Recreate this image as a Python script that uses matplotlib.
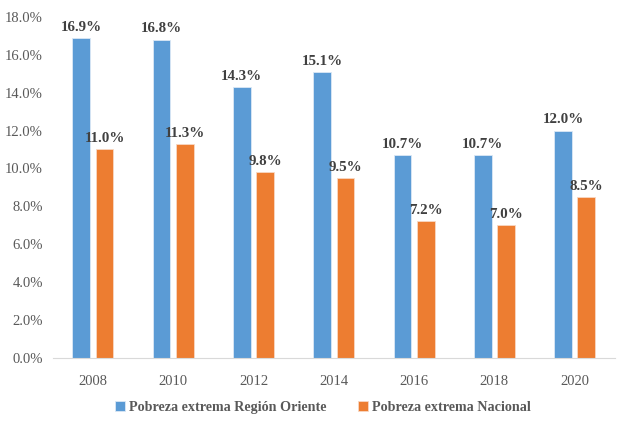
import numpy as np
import matplotlib.pyplot as plt
import matplotlib as mpl
from matplotlib.ticker import FuncFormatter

mpl.rcParams.update({
    "font.family": "Liberation Serif",
    "font.size": 9,
})

years = ["2008", "2010", "2012", "2014", "2016", "2018", "2020"]
oriente = [16.9, 16.8, 14.3, 15.1, 10.7, 10.7, 12.0]
nacional = [11.0, 11.3, 9.8, 9.5, 7.2, 7.0, 8.5]

BLUE = "#5B9BD5"
ORANGE = "#ED7D31"
GREY = "#595959"

fig = plt.figure(figsize=(6.21, 4.21), dpi=100)
ax = fig.add_axes([0.085, 0.150, 0.905, 0.810])

x = np.arange(len(years))
w = 0.22
off = 0.145
b1 = ax.bar(x - off, oriente, w, color=BLUE, edgecolor="#dbe8f5", linewidth=0.6,
            label="Pobreza extrema Región Oriente")
b2 = ax.bar(x + off, nacional, w, color=ORANGE, edgecolor="#f8d8c4", linewidth=0.6,
            label="Pobreza extrema Nacional")

for bars in (b1, b2):
    for r in bars:
        ax.annotate(f"{r.get_height():.1f}%", (r.get_x() + r.get_width() / 2, r.get_height()),
                    xytext=(0, 3), textcoords="offset points", ha="center", va="bottom",
                    fontsize=10.8, fontweight="bold", color="#404040")

ax.set_ylim(0, 18)
ax.set_yticks(np.arange(0, 18.1, 2))
ax.yaxis.set_major_formatter(FuncFormatter(lambda v, p: f"{v:.1f}%"))
ax.set_xlim(-0.5, len(years) - 0.5)
ax.set_xticks(x)
ax.set_xticklabels(years)
ax.tick_params(axis="both", length=0, colors=GREY, labelsize=10.5)
ax.tick_params(axis="y", pad=7)
ax.tick_params(axis="x", pad=12)

for s in ["top", "right", "left"]:
    ax.spines[s].set_visible(False)
ax.spines["bottom"].set_color("#d9d9d9")

leg = fig.legend(handles=[b1, b2], loc="center", bbox_to_anchor=(0.52, 0.033), ncol=2,
                 frameon=False, handlelength=0.7, handleheight=0.7, columnspacing=2.2,
                 handletextpad=0.3, prop={"weight": "bold", "size": 10.2})
for t in leg.get_texts():
    t.set_color(GREY)

fig.savefig("out.png", dpi=100)
